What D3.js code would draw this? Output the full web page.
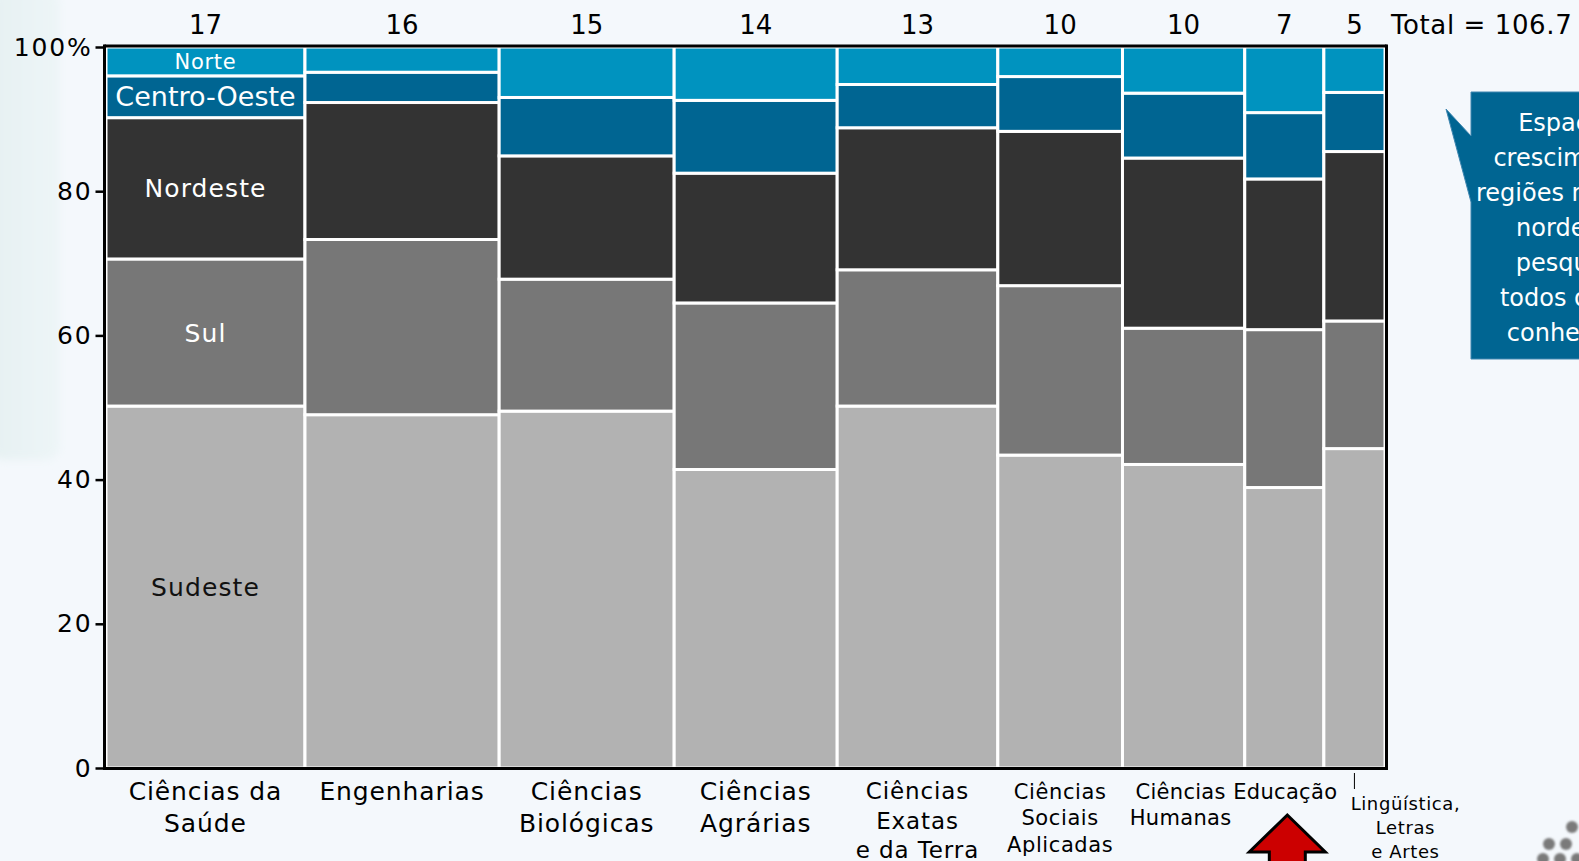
<!DOCTYPE html>
<html lang="pt">
<head>
<meta charset="utf-8">
<script src="https://cdn.jsdelivr.net/npm/d3@7"></script>
<style>
  html, body { margin: 0; padding: 0; background: #f4f8fc; overflow: hidden; }
  svg { display: block; }
  text { font-family: "DejaVu Sans", Verdana, sans-serif; }
</style>
</head>
<body>
<svg id="chart" width="1579" height="861"></svg>
<script>
// Áreas do conhecimento (rótulos do eixo x)
const categories = [
  "Ciências da\nSaúde", "Engenharias", "Ciências\nBiológicas", "Ciências\nAgrárias",
  "Ciências\nExatas\ne da Terra", "Ciências\nSociais\nAplicadas", "Ciências\nHumanas",
  "Educação", "Lingüística,\nLetras\ne Artes"
];
// Número de pesquisadores por área (mil) – define a largura de cada coluna
const researchers = [16.6, 16.2, 14.6, 13.6, 13.4, 10.4, 10.2, 6.6, 5.1];
const totalLabel = "Total = 106.7";

// Participação (%) de cada região, de baixo para cima
const regions = ["Sudeste", "Sul", "Nordeste", "Centro-Oeste", "Norte"];
const sudeste     = [50.2, 49.0, 49.5, 41.4, 50.2, 43.4, 42.1, 38.9, 44.3];
const sul         = [20.4, 24.3, 18.3, 23.1, 18.9, 23.5, 18.9, 21.9, 17.7];
const nordeste    = [19.6, 19.0, 17.1, 18.0, 19.7, 21.4, 23.6, 20.9, 23.5];
const centroOeste = [ 5.8,  4.2,  8.1, 10.1,  6.0,  7.6,  9.0,  9.2,  8.2];
const norte       = [ 4.0,  3.5,  7.0,  7.4,  5.2,  4.1,  6.4,  9.1,  6.3];
const yTicks = [0, 20, 40, 60, 80, 100];

const calloutLines = ["Espaço para", "crescimento das", "regiões norte e das", "nordeste em",
                      "pesquisa em", "todos os ramos", "conhecimento"];

const series = [sudeste, sul, nordeste, centroOeste, norte];
const regionColors = ["#b2b2b2", "#777777", "#333333", "#006592", "#0093bf"];
const regionText = ["#111111", "#ffffff", "#ffffff", "#ffffff", "#ffffff"];
const regionFont = [25, 25, 25, 27, 21];
const regionSpacing = [1.1, 1.1, 1.1, 0, 0.7];

const svg = d3.select("#chart");

// fundo do slide
const defs = svg.append("defs");
const band = defs.append("linearGradient").attr("id", "band").attr("x1", 0).attr("x2", 1);
band.append("stop").attr("offset", "0%").attr("stop-color", "#e6f1f2");
band.append("stop").attr("offset", "100%").attr("stop-color", "#edf5f7");
defs.append("filter").attr("id", "soft").append("feGaussianBlur").attr("stdDeviation", 0.8);
defs.append("filter").attr("id", "haze").append("feGaussianBlur").attr("stdDeviation", 4);
svg.append("rect").attr("x", -10).attr("y", -10).attr("width", 70).attr("height", 470)
  .attr("rx", 14).attr("fill", "url(#band)").attr("filter", "url(#haze)");

const x0 = 106, x1 = 1385, yBottom = 768, yTop = 47;
const cum = d3.cumsum(researchers);
const total = cum[cum.length - 1];
const x = d3.scaleLinear().domain([0, total]).range([x0, x1]);
const y = d3.scaleLinear().domain([0, 100]).range([yBottom, yTop]);

// colunas empilhadas (marimekko)
const cols = categories.map((c, i) => {
  let acc = 0;
  const segs = series.map((s, k) => {
    const seg = { k, y0: acc, y1: acc + s[i] };
    acc += s[i];
    return seg;
  });
  return { i, a: i ? cum[i - 1] : 0, b: cum[i], segs };
});

const g = svg.append("g");
cols.forEach(col => {
  g.selectAll(null).data(col.segs).join("rect")
    .attr("x", x(col.a)).attr("width", x(col.b) - x(col.a))
    .attr("y", d => y(d.y1)).attr("height", d => y(d.y0) - y(d.y1))
    .attr("fill", d => regionColors[d.k])
    .attr("stroke", "#ffffff").attr("stroke-width", 3);
});

// rótulos das regiões na primeira coluna
const first = cols[0];
g.selectAll(null).data(first.segs).join("text")
  .attr("x", (x(first.a) + x(first.b)) / 2)
  .attr("y", d => (y(d.y0) + y(d.y1)) / 2)
  .attr("dy", "0.36em")
  .attr("text-anchor", "middle")
  .attr("font-size", d => regionFont[d.k])
  .attr("letter-spacing", d => regionSpacing[d.k])
  .attr("fill", d => regionText[d.k])
  .text(d => regions[d.k]);

// moldura
const frame = svg.append("g").attr("stroke", "#000").attr("stroke-width", 3).attr("fill", "none");
frame.append("line").attr("x1", x0 - 1.5).attr("x2", x1 + 1.5).attr("y1", yTop - 1).attr("y2", yTop - 1);
frame.append("line").attr("x1", x1 + 1.5).attr("x2", x1 + 1.5).attr("y1", yTop - 2.5).attr("y2", yBottom + 1.5);
frame.append("line").attr("x1", x0 - 1.5).attr("x2", x1 + 3).attr("y1", yBottom + 0.5).attr("y2", yBottom + 0.5);

// eixo y
const yAxis = d3.axisLeft(y).tickValues(yTicks).tickSize(9).tickPadding(3)
  .tickFormat(d => d === 100 ? "100%" : d);
const ya = svg.append("g").attr("transform", `translate(${x0 - 1.5},0)`).call(yAxis);
ya.select(".domain").attr("stroke", "#000").attr("stroke-width", 3)
  .attr("d", `M0,${yTop - 2.5}V${yBottom + 2}`);
ya.selectAll(".tick line").attr("stroke", "#000").attr("stroke-width", 2.5);
ya.selectAll(".tick text").attr("font-size", 25).attr("fill", "#000")
  .attr("font-family", "DejaVu Sans, Verdana, sans-serif").attr("letter-spacing", 1.8);

// número de pesquisadores no topo
svg.selectAll(null).data(cols).join("text")
  .attr("x", d => (x(d.a) + x(d.b)) / 2)
  .attr("y", 34)
  .attr("text-anchor", "middle")
  .attr("font-size", 26)
  .attr("fill", "#000")
  .text(d => d3.format(".0f")(researchers[d.i]));
svg.append("text").attr("x", 1391).attr("y", 34).attr("font-size", 26)
  .attr("letter-spacing", 0.6).text(totalLabel);

// rótulos das categorias
const catFont = [25, 25, 25, 25, 23, 21, 21, 21, 18];
const catLead = [32, 32, 32, 32, 29.5, 26.5, 26.5, 26.5, 24];
const catSpacing = [0.9, 0.9, 0.9, 0.9, 0.9, 0.6, 0.3, 0.3, 0.6];
const catShift = [0, 0, 0, 0, 0, 0, -3, 1, 51];
cols.forEach(col => {
  const i = col.i;
  const mid = (x(col.a) + x(col.b)) / 2;
  const cx = mid + catShift[i];
  let top = 791;
  if (i === categories.length - 1) {
    // rótulo deslocado com linha de chamada
    svg.append("line").attr("x1", mid).attr("x2", mid).attr("y1", 773).attr("y2", 789)
      .attr("stroke", "#000").attr("stroke-width", 1);
    top = 804;
  }
  const t = svg.append("text").attr("text-anchor", "middle")
    .attr("font-size", catFont[i]).attr("letter-spacing", catSpacing[i]).attr("fill", "#000");
  categories[i].split("\n").forEach((line, j) => {
    t.append("tspan").attr("x", cx).attr("y", top + j * catLead[i]).attr("dy", "0.36em").text(line);
  });
});

// seta destacando Educação
const edu = cols[7];
const ax = (x(edu.a) + x(edu.b)) / 2 + 3;
svg.append("path")
  .attr("d", `M${ax},815 L${ax + 38},852 L${ax + 18},852 L${ax + 18},875 L${ax - 18},875 L${ax - 18},852 L${ax - 38},852 Z`)
  .attr("fill", "#cc0000").attr("stroke", "#000").attr("stroke-width", 3)
  .attr("stroke-linejoin", "miter");

// balão de comentário
const call = svg.append("g");
call.append("path")
  .attr("d", "M1471,92 L1720,92 L1720,359 L1471,359 L1471,202 L1446,109 L1471,136 Z")
  .attr("fill", "#006592").attr("stroke", "#3f86b0").attr("stroke-width", 1);
call.append("text").attr("text-anchor", "middle").attr("fill", "#ffffff")
  .attr("font-family", "Lato, 'Open Sans', sans-serif").attr("font-size", 24)
  .selectAll("tspan").data(calloutLines).join("tspan")
  .attr("x", 1592).attr("y", (d, j) => 122 + j * 35).attr("dy", "0.36em").text(d => d);

// detalhe decorativo (pontos)
const dots = [[1572, 827], [1549, 844], [1566, 844], [1543, 859], [1560, 859], [1577, 859]];
svg.append("g").attr("filter", "url(#soft)").selectAll("circle").data(dots).join("circle")
  .attr("cx", d => d[0]).attr("cy", d => d[1]).attr("r", 6).attr("fill", "#7a7a7a");
</script>
</body>
</html>
